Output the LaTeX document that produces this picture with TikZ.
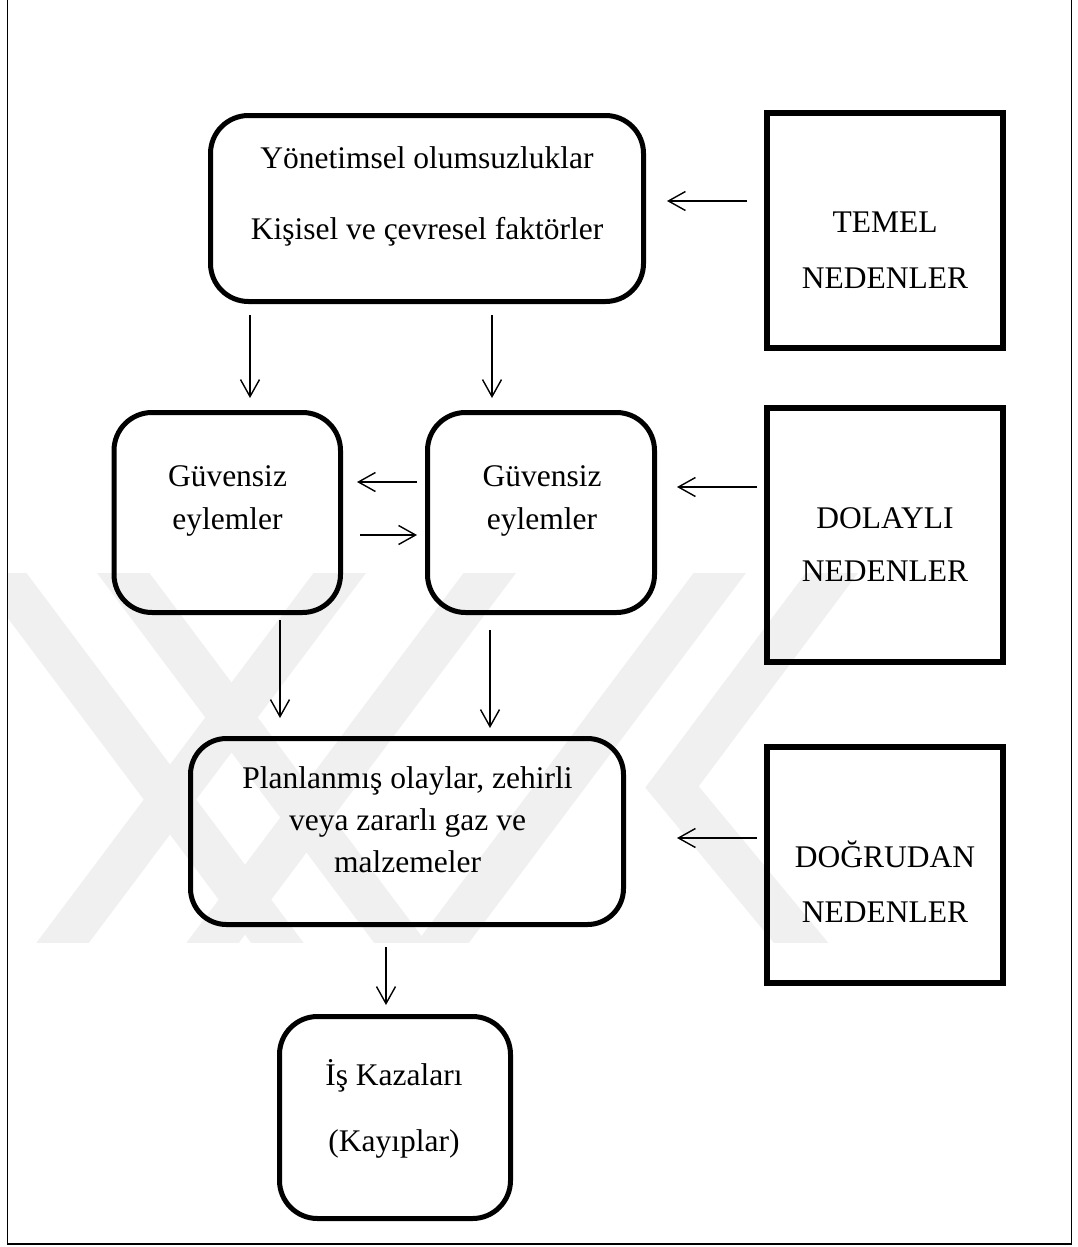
\documentclass[tikz,border=0pt]{standalone}
\usepackage{fontspec}
\setmainfont{Liberation Serif}
\usetikzlibrary{arrows.meta,calc}
\begin{document}
\begin{tikzpicture}[x=1pt,y=-1pt,
  rbox/.style={draw, line width=5pt, rounded corners=38pt, inner sep=0pt},
  sbox/.style={draw, line width=6pt, inner sep=0pt},
  txt/.style={anchor=base, inner sep=0pt, font=\fontsize{31.5}{38}\selectfont},
  arr/.style={line width=1.4pt, -{Straight Barb[length=17pt,width=19pt,line width=1.4pt]}},
  wm/.style={line width=42pt, draw=black!6}
]
\useasboundingbox (0,0) rectangle (1078,1247);
% watermark
\begin{scope}
  \clip (8,573) rectangle (1071,942);
  \draw[wm] (-32,530) -- (309,985);
  \draw[wm] (91,530) -- (432,985);
  \draw[wm] (752,530) -- (411,985);
  \draw[wm] (372,530) -- (31,985);
  \draw[wm] (522,530) -- (181,985);
  \draw[wm] (864,530) -- (672,787) -- (836,985);
\end{scope}
% frame
\draw[line width=1.5pt] (7.3,0) -- (7.3,1244) -- (1071.5,1244) -- (1071.5,0);
% boxes
\node[rbox, minimum width=433pt, minimum height=186pt] (ybox) at (427,208.5) {};
\node[sbox, minimum width=236pt, minimum height=235pt] (temel) at (885,230.5) {};
\node[rbox, minimum width=226.5pt, minimum height=200pt] (gl) at (227.25,512.5) {};
\node[rbox, minimum width=227pt, minimum height=200pt] (gr) at (541,512.5) {};
\node[sbox, minimum width=236pt, minimum height=254pt] (dol) at (885,535) {};
\node[rbox, minimum width=433pt, minimum height=186pt, rounded corners=36pt] (plan) at (407,831.5) {};
\node[sbox, minimum width=236pt, minimum height=236pt] (dog) at (885,865) {};
\node[rbox, minimum width=231pt, minimum height=202pt] (is) at (395,1117.5) {};
% texts
\node[txt] (y1) at (427,168) {Yönetimsel olumsuzluklar};
\node[txt] (y2) at (427,239) {Kişisel ve çevresel faktörler};
\node[txt] (t1) at (885,232) {TEMEL};
\node[txt] (t2) at (885,288) {NEDENLER};
\node[txt] (gl1) at (227.5,486) {Güvensiz};
\node[txt] (gl2) at (227.5,529) {eylemler};
\node[txt] (gr1) at (542,486) {Güvensiz};
\node[txt] (gr2) at (542,529) {eylemler};
\node[txt] (d1) at (885,528) {DOLAYLI};
\node[txt] (d2) at (885,581) {NEDENLER};
\node[txt] (p1) at (407.5,788) {Planlanmış olaylar, zehirli};
\node[txt] (p2) at (407.5,830) {veya zararlı gaz ve};
\node[txt] (p3) at (407.5,872) {malzemeler};
\node[txt] (o1) at (885,867) {DOĞRUDAN};
\node[txt] (o2) at (885,922) {NEDENLER};
\node[txt] (i1) at (394,1085) {İş Kazaları};
\node[txt] (i2) at (394,1151) {(Kayıplar)};
% arrows
\draw[arr] ($(temel.west)+(-17,-29.5)$) -- ($(ybox.east)+(21,-7.5)$);
\draw[arr] ($(ybox.south)+(-177,11)$) -- ($(gl.north)+(22.75,-12)$);
\draw[arr] ($(ybox.south)+(65,11)$) -- ($(gr.north)+(-49,-12)$);
\draw[arr] ($(gr.west)+(-8,-30.5)$) -- ($(gl.east)+(14,-30.5)$);
\draw[arr] ($(gl.east)+(17,22.5)$) -- ($(gr.west)+(-8,22.5)$);
\draw[arr] ($(dol.west)+(-7,-48)$) -- ($(gr.east)+(20,-25.5)$);
\draw[arr] ($(gl.south)+(52.75,5)$) -- ($(plan.north)+(-127,-18)$);
\draw[arr] ($(gr.south)+(-51,15)$) -- ($(plan.north)+(83,-8)$);
\draw[arr] ($(dog.west)+(-7,-27)$) -- ($(plan.east)+(51,6.5)$);
\draw[arr] ($(plan.south)+(-21,20)$) -- ($(is.north)+(-9,-9)$);
\end{tikzpicture}
\end{document}
